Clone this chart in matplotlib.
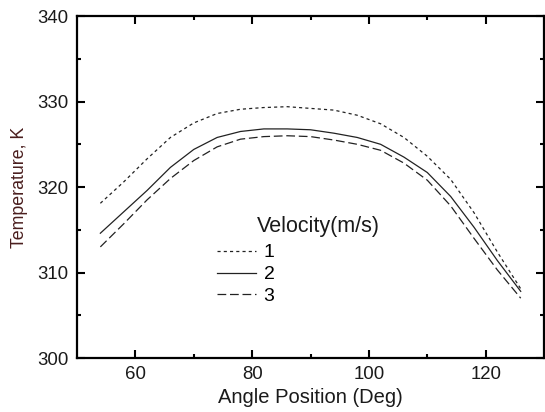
import numpy as np
from matplotlib import pyplot as plt

plt.rcParams['font.family'] = ['Liberation Sans', 'DejaVu Sans']

angle = [54, 58, 62, 66, 70, 74, 78, 82, 86, 90, 94, 98, 102, 106, 110, 114, 118, 122, 126]
temp_v1 = [318.1, 320.6, 323.3, 325.8, 327.5, 328.6, 329.1, 329.3, 329.4, 329.2, 329.0, 328.4, 327.4,
           325.8, 323.6, 320.9, 317.0, 312.4, 308.1]
temp_v2 = [314.6, 317.1, 319.6, 322.3, 324.4, 325.8, 326.5, 326.8, 326.8, 326.7, 326.3, 325.8, 325.0,
           323.5, 321.7, 318.9, 315.3, 311.4, 307.8]
temp_v3 = [313.0, 315.7, 318.5, 321.0, 323.1, 324.7, 325.6, 325.9, 326.0, 325.9, 325.5, 325.0, 324.3,
           322.8, 320.8, 317.8, 314.0, 310.3, 307.0]
labels = ['1', '2', '3']

fig = plt.figure(figsize=(5.45, 4.12), dpi=100)
ax = fig.add_axes([0.1413, 0.131, 0.857, 0.830])

c = '#222222'
ax.plot(angle, temp_v1, color=c, lw=0.9, ls=(0, (2.5, 2.5)), label=labels[0])
ax.plot(angle, temp_v2, color=c, lw=0.9, ls='-', label=labels[1])
ax.plot(angle, temp_v3, color=c, lw=0.9, ls=(0, (7, 3)), label=labels[2])

ax.set_xlim(50, 130)
ax.set_ylim(300, 340)
ax.set_xticks([60, 80, 100, 120])
ax.set_xticks([70, 90, 110], minor=True)
ax.set_yticks([300, 310, 320, 330, 340])
ax.set_yticks([305, 315, 325, 335], minor=True)
ax.tick_params(which='both', direction='in', top=True, right=True, width=1.5,
               labelsize=13.4, labelcolor='#1a1a1a', pad=6)
ax.tick_params(which='major', length=6)
ax.tick_params(which='minor', length=3)
for s in ax.spines.values():
    s.set_linewidth(1.6)

ax.set_xlabel('Angle Position (Deg)', fontsize=14.5, color='#1a1a1a', labelpad=3)
ax.set_ylabel('Temperature, K', fontsize=12.8, color='#4a1e1e', labelpad=7)

leg = ax.legend(loc='upper left', bbox_to_anchor=(0.2998, 0.334), frameon=False, fontsize=14,
                handlelength=2.0, handletextpad=0.4, labelspacing=0.22, borderpad=0,
                borderaxespad=0)
ax.text(0.3854, 0.386, 'Velocity(m/s)', transform=ax.transAxes, fontsize=15.5,
        color='#1a1a1a', va='center', ha='left')

fig.savefig('out.png', dpi=100)
